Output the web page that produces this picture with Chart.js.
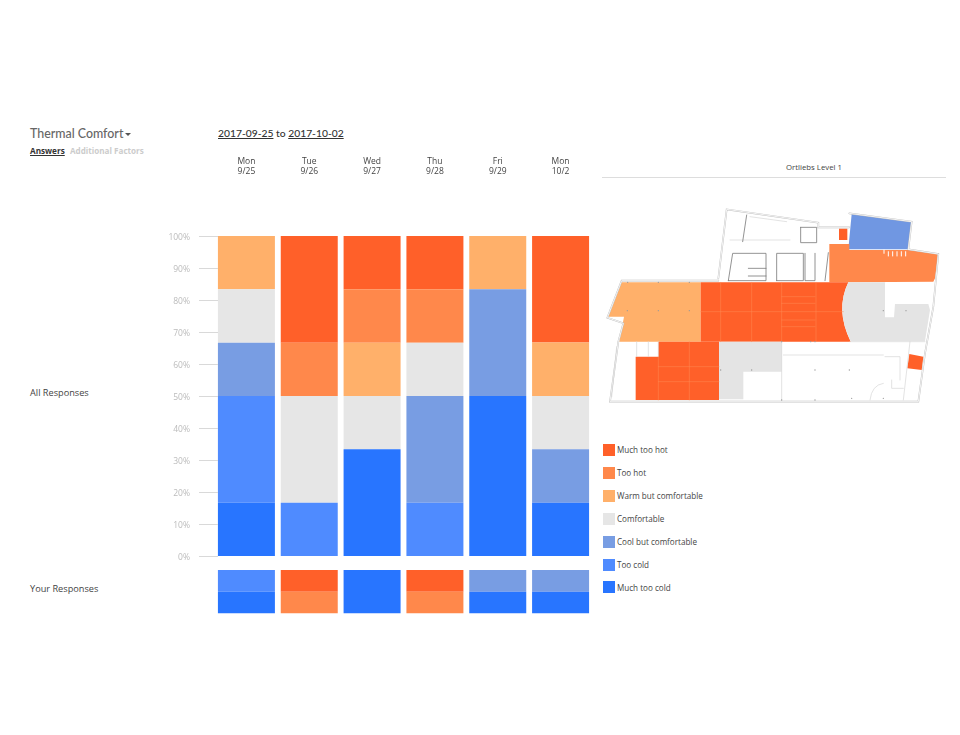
<!DOCTYPE html>
<html><head><meta charset="utf-8">
<script src="https://cdn.jsdelivr.net/npm/chart.js@4"></script>
<style>
html,body{margin:0;padding:0;background:#fff;width:960px;height:735px;overflow:hidden}
.t{position:absolute;white-space:nowrap;font-family:"Open Sans",sans-serif;line-height:1;color:#444}
canvas{position:absolute}
#main-wrap,#your-wrap{position:absolute}
.sw{position:absolute;width:12px;height:12px}
</style></head><body>
<div class="t" style="left:30px;top:126px;font:500 12.4px Lato,sans-serif;color:#666">Thermal Comfort<span style="display:inline-block;margin-left:2px;vertical-align:2px;border-left:3px solid transparent;border-right:3px solid transparent;border-top:3px solid #555"></span></div>
<div class="t" style="left:30px;top:145px;font:bold 8.2px 'Open Sans',sans-serif;color:#333;text-decoration:underline">Answers</div>
<div class="t" style="left:70px;top:145px;font:bold 8.1px 'Open Sans',sans-serif;color:#ccc">Additional Factors</div>
<div class="t" style="left:218px;top:127px;font:500 10.3px Lato,sans-serif;color:#333"><u>2017-09-25</u> to <u>2017-10-02</u></div>
<div class="t" style="left:30px;top:388px;font-size:9.2px">All Responses</div>
<div class="t" style="left:30px;top:584px;font-size:9.2px">Your Responses</div>
<div id="main-wrap" style="left:150px;top:150px;width:450px;height:415px"><canvas id="main"></canvas></div>
<div id="your-wrap" style="left:150px;top:560px;width:450px;height:64px"><canvas id="your"></canvas></div>
<div class="t" style="left:714px;width:200px;top:164px;text-align:center;font-size:7.8px">Ortliebs Level 1</div>
<div style="position:absolute;left:602px;top:177px;width:344px;height:1px;background:#ddd"></div>
<svg id="plan" style="position:absolute;left:590px;top:150px" width="370" height="270" viewBox="0 0 1110 810"></svg>
<div id="legend"></div>
<script>
const dayLabels = [["Mon","9/25"],["Tue","9/26"],["Wed","9/27"],["Thu","9/28"],["Fri","9/29"],["Mon","10/2"]];
const seriesNames = ["Much too cold","Too cold","Cool but comfortable","Comfortable","Warm but comfortable","Too hot","Much too hot"];
const seriesColors = ["#2875ff","#4f8bff","#789de3","#e6e6e6","#ffb06a","#ff884b","#ff6029"];

const allMuchTooCold = [16.67, 0, 33.33, 0, 50, 16.67];
const allTooCold     = [33.33, 16.67, 0, 16.67, 0, 0];
const allCool        = [16.67, 0, 0, 33.33, 33.33, 16.67];
const allComfortable = [16.67, 33.33, 16.67, 16.67, 0, 16.67];
const allWarm        = [16.66, 0, 16.67, 0, 16.67, 16.67];
const allTooHot      = [0, 16.67, 16.67, 16.67, 0, 0];
const allMuchTooHot  = [0, 33.33, 16.66, 16.66, 0, 33.32];

const yourMuchTooCold = [50, 0, 100, 0, 50, 50];
const yourTooCold     = [50, 0, 0, 0, 0, 0];
const yourCool        = [0, 0, 0, 0, 50, 50];
const yourComfortable = [0, 0, 0, 0, 0, 0];
const yourWarm        = [0, 0, 0, 0, 0, 0];
const yourTooHot      = [0, 50, 0, 50, 0, 0];
const yourMuchTooHot  = [0, 50, 0, 50, 0, 0];

const allSeries = [allMuchTooCold, allTooCold, allCool, allComfortable, allWarm, allTooHot, allMuchTooHot];
const yourSeries = [yourMuchTooCold, yourTooCold, yourCool, yourComfortable, yourWarm, yourTooHot, yourMuchTooHot];

const mkSets = s => s.map((d,i)=>({label:seriesNames[i],data:d,backgroundColor:seriesColors[i],borderWidth:0,barPercentage:1,categoryPercentage:0.907}));

const tickLines = {id:'tickLines',afterDatasetsDraw(c){
  const y=c.scales.y,g=c.ctx;
  g.save();g.strokeStyle='#d9d9d9';g.lineWidth=1;
  y.ticks.forEach((t,i)=>{const p=Math.round(y.getPixelForTick(i))+0.5;g.beginPath();g.moveTo(c.chartArea.left-16,p);g.lineTo(c.chartArea.left+3,p);g.stroke();});
  g.restore();
}};

new Chart(document.getElementById('main'),{type:'bar',
 data:{labels:dayLabels,datasets:mkSets(allSeries)},
 plugins:[tickLines],
 options:{responsive:true,maintainAspectRatio:false,animation:false,
  layout:{padding:{left:0,right:8,top:0,bottom:9}},
  plugins:{legend:{display:false},tooltip:{enabled:false}},
  scales:{
   x:{position:'top',stacked:true,grid:{display:false,drawTicks:false},border:{display:false},
      afterFit(s){s.height=86;s.paddingLeft=0;s.paddingRight=0;s.paddingTop=0;s.paddingBottom=0},
      ticks:{color:'#444',font:{family:'"Open Sans"',size:8.5,lineHeight:1.1},padding:60,maxRotation:0,autoSkip:false}},
   y:{stacked:true,min:0,max:100,grid:{display:false,drawTicks:false},border:{display:false},
      afterFit(s){s.width=65;s.paddingLeft=0;s.paddingRight=0;s.paddingTop=0;s.paddingBottom=0},
      ticks:{stepSize:10,color:'#bbb',font:{family:'"Open Sans"',size:8.5},padding:25,labelOffset:1.5,callback:v=>v+'%'}}
  }}});

new Chart(document.getElementById('your'),{type:'bar',
 data:{labels:dayLabels,datasets:mkSets(yourSeries)},
 options:{responsive:true,maintainAspectRatio:false,animation:false,
  layout:{padding:{left:65,right:8,top:10,bottom:10.5}},
  plugins:{legend:{display:false},tooltip:{enabled:false}},
  scales:{x:{stacked:true,display:false},y:{stacked:true,display:false,min:0,max:100}}}});

// Legend, top to bottom
const lg=document.getElementById('legend');
[...seriesNames].reverse().forEach((n,i)=>{
  const top=444+i*22.9, col=seriesColors[seriesColors.length-1-i];
  lg.insertAdjacentHTML('beforeend',`<div class="sw" style="left:603px;top:${top}px;background:${col}"></div><div class="t" style="left:617px;top:${top+2.4}px;font-size:8.1px">${n}</div>`);
});

// Floor plan backdrop (decorative)
const planFills = [
 ["#7097e2","M785 192L965 215L955 298L775 298Z"],
 ["#ff6029","M747 236L772 236L772 270L747 270Z"],
 ["#ff884b","M718 282L778 282L778 300L955 300L1045 312L1035 385L1030 395L775 397L718 397Z"],
 ["#ffb06a","M95 397L332 397L332 575L88 575L102 500L55 500Z"],
 ["#ff6029","M332 397L775 397Q735 480 782 575L332 575Z"],
 ["#e4e4e4","M775 397L885 397L885 502L912 502L915 462L1015 462L1020 480L1005 573L782 573Q735 480 775 397Z"],
 ["#ff6029","M205 575L387 575L387 750L137 750L137 620L205 620Z"],
 ["#e4e4e4","M387 575L575 575L575 665L460 665L460 748L387 748Z"]
];
const planSmall = ["#ff6029","M958 612L1000 620L995 660L952 655Z"];
const outerWall = "M385 385L410 178L685 218L685 232L778 232M778 190L965 215L955 298M955 298L1045 312L1030 470L1005 610L985 755L60 755L85 575L100 520L52 503L95 392L385 392";
const planWalls = [
 ["#bdbdbd",5,outerWall],
 ["#ffffff",2.5,outerWall],
 ["#d4d4d4",2,"M575 575L575 750M960 575L940 750M80 590L65 740M205 575L205 620M140 575L140 620M175 575L175 620M885 620L930 620L930 690M905 690L905 715L940 715M840 750Q845 705 880 700M1005 575L780 575M580 615L880 615M420 270L600 270M480 200L590 215"],
 ["#777",2.4,"M415 392L428 310L528 310L528 392L415 392M560 392L560 310L640 310L640 392L560 392M645 310L645 392L675 392L675 310M715 308L705 392M475 355L528 355M475 378L528 378M632 232L632 278L680 278L680 232L632 232M470 195L458 275"],
 ["#fff",3,"M882 310L882 300M895 318L895 305M908 318L908 305M921 318L921 305M934 318L934 305M947 318L947 305"],
 ["#ff8a55",1.5,"M392 397L392 575M485 397L485 575M575 397L575 575M678 397L678 575M332 485L760 485M575 440L675 440M575 460L675 460M575 510L675 510M575 530L675 530M205 650L387 650M205 620L205 750M298 575L298 750M205 695L387 695"],
 ["#9a9a9a",4,"M112 482l0 .1M205 482l0 .1M298 482l0 .1M392 660l0 .1M485 660l0 .1M675 660l0 .1M778 660l0 .1M880 482l0 .1M948 482l0 .1M113 397l0 .1M205 397l0 .1M298 397l0 .1M575 575l0 .1M662 575l0 .1M675 575l0 .1M575 750l0 .1M675 750l0 .1M785 745l0 .1M880 745l0 .1"]
];
const svg=document.getElementById('plan');let h='';
planFills.concat([planSmall]).forEach(p=>h+=`<path d="${p[1]}" fill="${p[0]}"/>`);
planWalls.forEach(p=>h+=`<path d="${p[2]}" fill="none" stroke="${p[0]}" stroke-width="${p[1]}" stroke-linecap="round"/>`);
svg.innerHTML=h;
</script>
</body></html>
